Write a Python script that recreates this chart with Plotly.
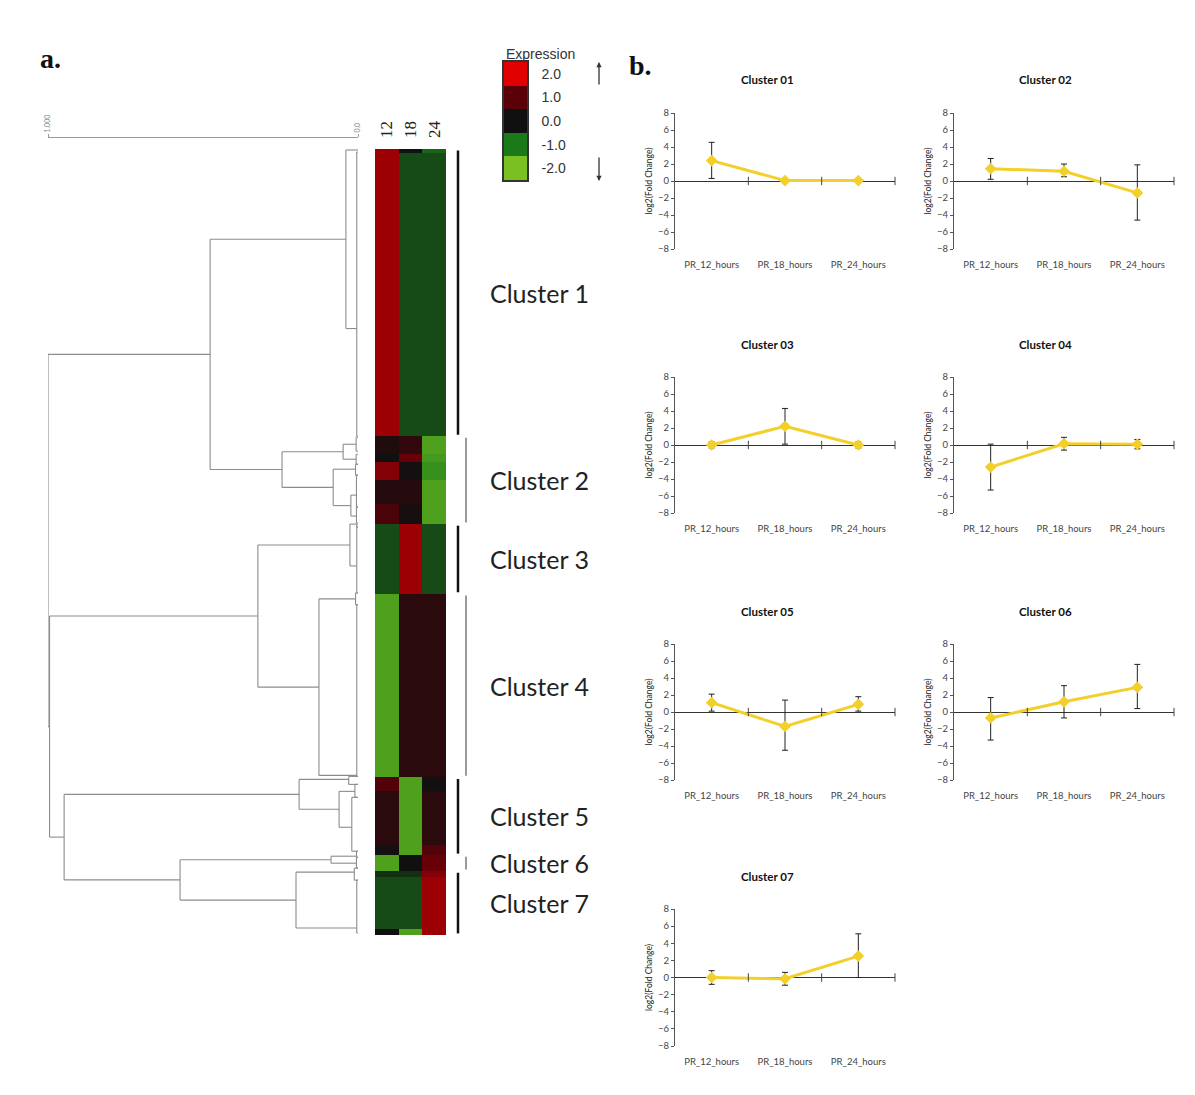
import plotly.graph_objects as go

W, H = 1195, 1095
PAGE_OFFSET = 8  # default body margin of the html page


def fx(p):
    return (p - PAGE_OFFSET) / W


def fy(p):
    return 1 - (p - PAGE_OFFSET) / H


# ---------------- heatmap data (blocks of genes, top to bottom) ----------------
time_labels = ["12", "18", "24"]
block_sizes = [2, 142, 9, 4, 9, 12, 10, 35, 92, 7, 27, 5, 8, 3, 26, 3]
expr_12 = [1.5, 1.5, 0.2, 0.0, 1.3, 0.3, 0.8, -0.55, -1.55, 0.9, 0.35, 0.05, -1.55, -0.3, -0.55, 0.0]
expr_18 = [0.0, -0.55, 0.45, 1.1, 0.05, 0.3, 0.1, 1.5, 0.35, -1.55, -1.55, -1.55, 0.0, -0.3, -0.55, -1.55]
expr_24 = [-0.8, -0.55, -1.55, -1.45, -1.3, -1.55, -1.55, -0.55, 0.35, 0.05, 0.35, 0.9, 1.1, 1.3, 1.5, 1.5]
cluster_names = ["Cluster 1", "Cluster 2", "Cluster 3", "Cluster 4", "Cluster 5", "Cluster 6", "Cluster 7"]
cluster_block_counts = [2, 5, 1, 1, 3, 1, 3]
legend_values = [-2.0, -1.0, 0.0, 1.0, 2.0]
legend_labels = ["-2.0", "-1.0", "0.0", "1.0", "2.0"]

# ---------------- dendrogram (rows, heights) ----------------
# leaf groups: name -> (top_row, bottom_row, height, attach_row)
dendro_groups = {
    "gA": (0.5, 0.5, 0.0, 0.5),
    "gB": (1.5, 144.0, 0.004, 90.0),
    "g2a": (144.5, 151.5, 0.006, 148.0),
    "g2b": (153.0, 158.0, 0.006, 155.5),
    "g2c": (158.0, 163.5, 0.008, 160.5),
    "g2d1": (163.5, 179.5, 0.005, 173.5),
    "g2d2": (179.5, 187.5, 0.005, 184.0),
    "g3a": (188.0, 189.5, 0.004, 188.0),
    "g3b": (189.5, 222.5, 0.004, 209.0),
    "g4a": (222.5, 228.5, 0.008, 225.5),
    "g4b": (228.5, 314.5, 0.004, 314.0),
    "g5a": (314.5, 318.5, 0.03, 316.0),
    "g5b": (318.5, 325.0, 0.01, 322.0),
    "g5c": (325.0, 352.0, 0.02, 340.0),
    "g6a": (352.0, 355.0, 0.005, 354.5),
    "g6b": (355.0, 360.5, 0.005, 358.0),
    "g7a": (360.5, 366.5, 0.012, 362.5),
    "g7b": (366.5, 393.0, 0.004, 390.5),
}
# merges: (name, child_a, child_b, height)
dendro_merges = [
    ("n1", "gA", "gB", 0.039),
    ("n2a", "g2a", "g2b", 0.048),
    ("n2d", "g2d1", "g2d2", 0.023),
    ("n2b", "g2c", "n2d", 0.08),
    ("n2", "n2a", "n2b", 0.245),
    ("n12", "n1", "n2", 0.477),
    ("n3", "g3a", "g3b", 0.026),
    ("n4", "g4a", "g4b", 0.126),
    ("n34", "n3", "n4", 0.323),
    ("n5b", "g5b", "g5c", 0.061),
    ("n5", "g5a", "n5b", 0.19),
    ("n6", "g6a", "g6b", 0.087),
    ("n7", "g7a", "g7b", 0.2),
    ("n67", "n6", "n7", 0.574),
    ("n567", "n5", "n67", 0.948),
    ("n34567", "n34", "n567", 0.995),
    ("root", "n12", "n34567", 1.0),
]

# ---------------- cluster profile data ----------------
time_points = ["PR_12_hours", "PR_18_hours", "PR_24_hours"]
panel_titles = ["Cluster 01", "Cluster 02", "Cluster 03", "Cluster 04", "Cluster 05", "Cluster 06", "Cluster 07"]
mean_c01 = [2.4, 0.05, 0.05]
up_c01 = [2.15, 0.1, 0.1]
down_c01 = [2.1, 0.1, 0.1]
mean_c02 = [1.45, 1.15, -1.4]
up_c02 = [1.2, 0.85, 3.3]
down_c02 = [1.25, 0.65, 3.2]
mean_c03 = [0.0, 2.2, 0.0]
up_c03 = [0.35, 2.1, 0.35]
down_c03 = [0.35, 2.1, 0.35]
mean_c04 = [-2.6, 0.15, 0.1]
up_c04 = [2.7, 0.75, 0.55]
down_c04 = [2.7, 0.75, 0.55]
mean_c05 = [1.1, -1.7, 0.9]
up_c05 = [1.0, 3.1, 0.9]
down_c05 = [1.0, 2.8, 0.8]
mean_c06 = [-0.7, 1.2, 2.9]
up_c06 = [2.4, 1.9, 2.7]
down_c06 = [2.6, 1.9, 2.5]
mean_c07 = [0.0, -0.15, 2.5]
up_c07 = [0.8, 0.75, 2.6]
down_c07 = [0.8, 0.75, 2.5]

panel_means = [mean_c01, mean_c02, mean_c03, mean_c04, mean_c05, mean_c06, mean_c07]
panel_up = [up_c01, up_c02, up_c03, up_c04, up_c05, up_c06, up_c07]
panel_down = [down_c01, down_c02, down_c03, down_c04, down_c05, down_c06, down_c07]

# ---------------- styles ----------------
expr_colorscale = [[0.0, "#7ac020"], [0.25, "#1a7a1a"], [0.5, "#101010"], [0.75, "#5a0008"], [1.0, "#e00000"]]
SANS = "Lato, Open Sans, Liberation Sans, sans-serif"
SERIF = "Liberation Serif, Times New Roman, serif"
ARIAL = "Liberation Sans, Arial, sans-serif"
YELLOW = "#f2cf2a"

fig = go.Figure()

# ---- main heatmap ----
edges = [0]
for s in block_sizes:
    edges.append(edges[-1] + s)
n_rows = edges[-1]
z = [[a, b, c] for a, b, c in zip(expr_12, expr_18, expr_24)]
fig.add_trace(go.Heatmap(
    z=z, x=[0, 1, 2], y=edges, colorscale=expr_colorscale, zmin=-2, zmax=2,
    showscale=False, xaxis="x", yaxis="y", hoverinfo="skip"))

# ---- dendrogram ----
pos = {}
dx, dy = [], []


def seg(x0, y0, x1, y1):
    dx.extend([x0, x1, None])
    dy.extend([y0, y1, None])


for name, (top, bot, h, att) in dendro_groups.items():
    if bot > top:
        seg(h, top, h, bot)
        seg(0, top, h, top)
        seg(0, bot, h, bot)
    pos[name] = (h, att)
for name, a, b, h in dendro_merges:
    ha, ya = pos[a]
    hb, yb = pos[b]
    seg(ha, ya, h, ya)
    seg(hb, yb, h, yb)
    seg(h, ya, h, yb)
    pos[name] = (h, (ya + yb) / 2)

fig.add_trace(go.Scatter(x=dx, y=dy, mode="lines", line=dict(color="#8c8c8c", width=1.1),
                         xaxis="x2", yaxis="y2", hoverinfo="skip", cliponaxis=False))

# ---- legend colour key ----
fig.add_trace(go.Heatmap(
    z=[[v] for v in legend_values], x=[0], y=legend_values, colorscale=expr_colorscale,
    zmin=-2, zmax=2, showscale=False, xaxis="x3", yaxis="y3", hoverinfo="skip"))

# ---- cluster panels ----
col_x = [(675, 895), (954, 1174)]
row_y = [(113, 249), (377, 513), (644, 780), (909, 1046)]
title_y = [79, 344, 611, 876]
title_x = [767, 1045]

layout_axes = {}
annotations = []
for i in range(7):
    k = i + 4
    r, c = divmod(i, 2)
    xa, ya = ("x%d" % k), ("y%d" % k)
    xs = list(range(len(time_points)))
    fig.add_trace(go.Scatter(
        x=xs, y=panel_means[i], mode="lines+markers",
        line=dict(color=YELLOW, width=3),
        marker=dict(symbol="diamond", size=9, color=YELLOW),
        error_y=dict(type="data", symmetric=False, array=panel_up[i], arrayminus=panel_down[i],
                     color="#222222", thickness=1, width=3),
        xaxis=xa, yaxis=ya, hoverinfo="skip"))
    # category boundary ticks on the zero line
    bounds = [j + 0.5 for j in xs]
    fig.add_trace(go.Scatter(
        x=bounds, y=[0] * len(bounds), mode="markers",
        marker=dict(symbol="line-ns-open", size=6, color="#444444",
                    line=dict(color="#444444", width=1)),
        xaxis=xa, yaxis=ya, hoverinfo="skip", cliponaxis=False))
    x0, x1 = col_x[c]
    y0, y1 = row_y[r]
    layout_axes["xaxis%d" % k] = dict(
        domain=[fx(x0), fx(x1)], anchor=ya, range=[-0.5, len(time_points) - 0.5],
        tickvals=xs, ticktext=time_points, showline=False, ticks="", showgrid=False,
        zeroline=False, automargin=False,
        tickfont=dict(family=SANS, size=9.5, color="#444444"), ticklabelstandoff=8)
    layout_axes["yaxis%d" % k] = dict(
        domain=[fy(y1), fy(y0)], anchor=xa, range=[-8, 8], dtick=2, tick0=0,
        showline=True, linecolor="#555555", linewidth=1, ticks="outside", ticklen=3,
        tickcolor="#555555", showgrid=False, zeroline=True, zerolinecolor="#333333",
        zerolinewidth=1, automargin=False, tickfont=dict(family=SANS, size=9.5, color="#444444"),
        title=dict(text="log2(Fold Change)", standoff=4,
                   font=dict(family=SANS, size=8.5, color="#222222")))
    annotations.append(dict(
        text="<b>%s</b>" % panel_titles[i], x=fx(title_x[c]), y=fy(title_y[r]),
        xref="paper", yref="paper", xanchor="center", yanchor="middle", showarrow=False,
        font=dict(family=SANS, size=11.5, color="#111111")))

# ---- cluster bars and labels ----
shapes = []
b = 0
for ci, cnt in enumerate(cluster_block_counts):
    r0 = edges[b]
    r1 = edges[b + cnt]
    b += cnt
    black = ci % 2 == 0
    xline = 458 if black else 466
    shapes.append(dict(type="line", xref="paper", yref="y", x0=fx(xline), x1=fx(xline),
                       y0=r0 + 0.8, y1=r1 - 0.8,
                       line=dict(color="#111111" if black else "#9a9a9a", width=2.5 if black else 2)))
    annotations.append(dict(text=cluster_names[ci], x=fx(539), y=(r0 + r1) / 2, xref="paper", yref="y",
                            xanchor="center", yanchor="middle",
                            showarrow=False, font=dict(family=SANS, size=25, color="#222222")))

# ---- panel labels, legend title, arrows ----
annotations += [
    dict(text="<b>a.</b>", x=fx(50), y=fy(58), xref="paper", yref="paper", showarrow=False,
         xanchor="center", yanchor="middle", font=dict(family=SERIF, size=28, color="#111111")),
    dict(text="<b>b.</b>", x=fx(640), y=fy(65), xref="paper", yref="paper", showarrow=False,
         xanchor="center", yanchor="middle", font=dict(family=SERIF, size=28, color="#111111")),
    dict(text="Expression", x=fx(540), y=fy(54), xref="paper", yref="paper", showarrow=False,
         xanchor="center", yanchor="middle", font=dict(family=ARIAL, size=14, color="#333333")),
    dict(text="", x=fx(599), y=fy(62), ax=0, ay=24, xref="paper", yref="paper",
         axref="pixel", ayref="pixel", showarrow=True, arrowhead=2, arrowsize=0.8,
         arrowwidth=1.3, arrowcolor="#333333"),
    dict(text="", x=fx(599), y=fy(181), ax=0, ay=-25, xref="paper", yref="paper",
         axref="pixel", ayref="pixel", showarrow=True, arrowhead=2, arrowsize=0.8,
         arrowwidth=1.3, arrowcolor="#333333"),
]

fig.update_layout(
    template="none",
    width=W, height=H, margin=dict(l=0, r=0, t=0, b=0, pad=0, autoexpand=False),
    paper_bgcolor="white", plot_bgcolor="white", showlegend=False,
    font=dict(family=SANS, color="#333333"),
    xaxis=dict(domain=[fx(375), fx(446)], anchor="y", side="top", range=[-0.5, 2.5],
               tickvals=[0, 1, 2], ticktext=time_labels, tickangle=-90, ticks="",
               showline=False, showgrid=False, zeroline=False, ticklabelstandoff=10,
               automargin=False, tickfont=dict(family=SERIF, size=17, color="#222222")),
    yaxis=dict(domain=[fy(935), fy(149)], anchor="x", range=[n_rows, 0], visible=False,
               automargin=False),
    xaxis2=dict(domain=[fx(48), fx(358)], anchor="free", position=fy(137), side="top",
                range=[1.0, 0.0], showline=True, linecolor="#999999", linewidth=1,
                tickvals=[1.0, 0.0], ticktext=["1.000", "0.0"], tickangle=-90,
                ticks="outside", ticklen=3, tickcolor="#999999", showgrid=False, zeroline=False,
                automargin=False, tickfont=dict(family=SANS, size=7, color="#888888")),
    yaxis2=dict(domain=[fy(935), fy(149)], anchor="x2", range=[n_rows, 0], visible=False,
                automargin=False),
    xaxis3=dict(domain=[fx(504), fx(527)], anchor="y3", range=[-0.5, 0.5], showticklabels=False,
                ticks="", showgrid=False, zeroline=False, showline=True, mirror=True,
                linecolor="#333333", linewidth=1.5, automargin=False),
    yaxis3=dict(domain=[fy(180), fy(62)], anchor="x3", range=[-2.5, 2.5], side="right",
                tickvals=legend_values, ticktext=legend_labels, ticks="", showgrid=False,
                zeroline=False, showline=True, mirror=True, linecolor="#333333", linewidth=1.5,
                ticklabelstandoff=10, automargin=False,
                tickfont=dict(family=ARIAL, size=14, color="#333333")),
    annotations=annotations,
    shapes=shapes,
    **layout_axes,
)

fig.write_html("out.html")
